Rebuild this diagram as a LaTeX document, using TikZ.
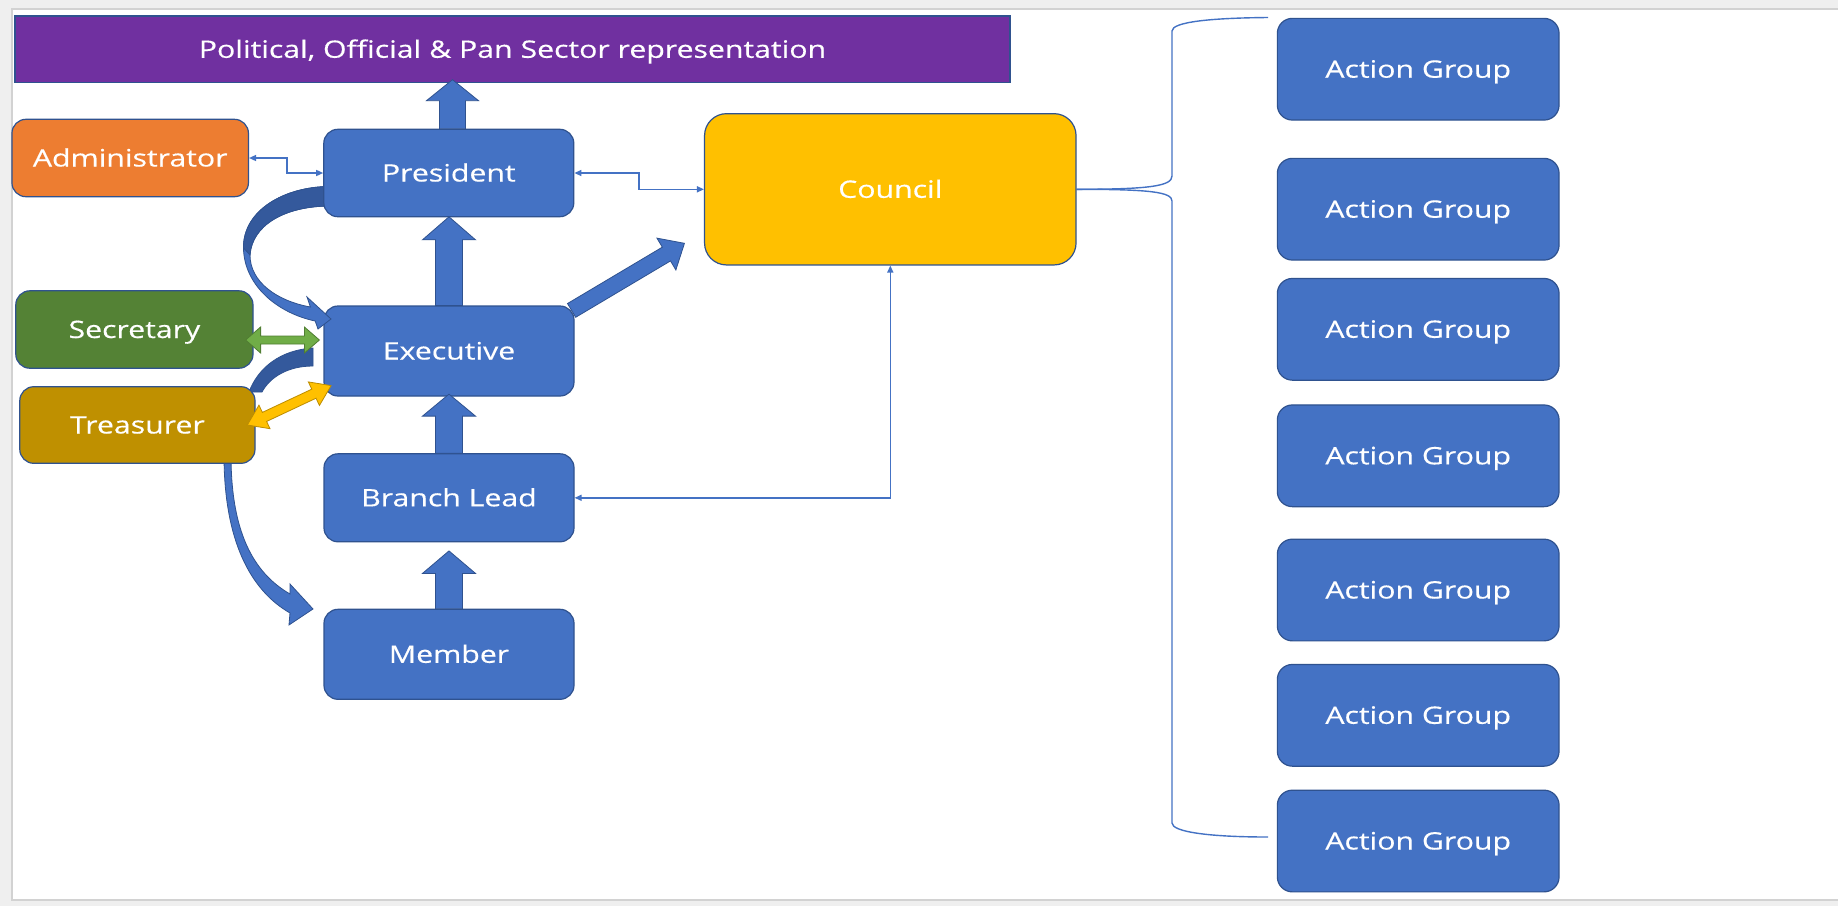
\documentclass[tikz,border=0pt]{standalone}
\usepackage{fontspec}
\setmainfont{Open Sans}[FakeStretch=1.26,FakeBold=0.4]
\usetikzlibrary{calc,arrows.meta}
\definecolor{blu}{HTML}{4472C4}
\definecolor{bluo}{HTML}{2F528F}
\definecolor{bludk}{HTML}{34599C}
\definecolor{purp}{HTML}{7030A0}
\definecolor{orng}{HTML}{ED7D31}
\definecolor{grn}{HTML}{548235}
\definecolor{ltgrn}{HTML}{70AD47}
\definecolor{ltgrno}{HTML}{507E32}
\definecolor{gold}{HTML}{BF9000}
\definecolor{yel}{HTML}{FFC000}
\definecolor{yelo}{HTML}{BC8C00}
\definecolor{bgc}{HTML}{EFEFEF}
\definecolor{framec}{HTML}{D2D2D2}
\pgfdeclarelayer{back}
\pgfdeclarelayer{bg}
\pgfdeclarelayer{curv}
\pgfdeclarelayer{top}
\pgfdeclarelayer{fg}
\pgfsetlayers{back,bg,main,curv,top,fg}
% block arrow: style, from, to, half shaft, half head, head length
\newcommand{\blockarr}[6]{%
  \coordinate (ba-h) at ($(#3)!#6!(#2)$);
  \filldraw[#1] ($(#2)!#4!90:(#3)$) -- ($(ba-h)!#4!90:(#3)$) -- ($(ba-h)!#5!90:(#3)$) -- (#3) -- ($(ba-h)!#5!-90:(#3)$) -- ($(ba-h)!#4!-90:(#3)$) -- ($(#2)!#4!-90:(#3)$) -- cycle;}
% double block arrow
\newcommand{\dblarr}[6]{%
  \coordinate (da-a) at ($(#2)!#6!(#3)$);
  \coordinate (da-b) at ($(#3)!#6!(#2)$);
  \filldraw[#1] (#2) -- ($(da-a)!#5!90:(#3)$) -- ($(da-a)!#4!90:(#3)$) -- ($(da-b)!#4!90:(#3)$) -- ($(da-b)!#5!90:(#3)$) -- (#3) -- ($(da-b)!#5!-90:(#3)$) -- ($(da-b)!#4!-90:(#3)$) -- ($(da-a)!#4!-90:(#3)$) -- ($(da-a)!#5!-90:(#3)$) -- cycle;}
\begin{document}
\begin{tikzpicture}[x=1pt,y=-1pt,
  box/.style={draw=bluo, line width=1.2pt, rounded corners=14pt, inner sep=0pt, text=white, text height=22pt, text depth=5pt, font=\fontsize{24pt}{28pt}\selectfont},
  bluebox/.style={box, fill=blu, minimum width=250pt, minimum height=88pt},
  sidebox/.style={box, minimum width=236.5pt, minimum height=77.4pt},
  agbox/.style={box, fill=blu, rounded corners=15pt, minimum width=281.7pt, minimum height=101.7pt},
  thinc/.style={draw=blu, line width=1.4pt, {Triangle[length=7pt,width=6pt]}-{Triangle[length=7pt,width=6pt]}},
  brace/.style={draw=blu, line width=1.4pt},
  blk/.style={fill=blu, draw=bluo, line width=0.8pt, line join=miter},
  crv/.style={fill=blu, draw=bluo, line width=0.8pt},
  dkband/.style={fill=bludk, draw=bluo, line width=0.8pt},
  grnarr/.style={fill=ltgrn, draw=ltgrno, line width=0.8pt},
  yelarr/.style={fill=yel, draw=yelo, line width=0.8pt}]
\useasboundingbox (0,0) rectangle (1838,906);
\begin{pgfonlayer}{back}
\fill[bgc] (0,0) rectangle (1838,906);
\fill[white] (12,9) rectangle (1845,900);
\draw[framec, line width=1.2pt] (1845,9) -- (12,9) -- (12,900) -- (1845,900);
\end{pgfonlayer}

% nodes
\node[box, fill=purp, rounded corners=0pt, minimum width=995pt, minimum height=66.7pt] (ban) at (512.5,49.3) {Political, Official \& Pan Sector representation};
\node[sidebox, fill=orng] (admin) at (130.2,158) {Administrator};
\begin{pgfonlayer}{top}
\node[bluebox, minimum height=87.4pt] (pres) at (448.8,173) {President};
\end{pgfonlayer}
\node[box, fill=yel, rounded corners=22pt, minimum width=371.5pt, minimum height=151.3pt] (council) at (890.3,189.3) {Council};
\node[sidebox, fill=grn, minimum width=237.2pt] (sec) at (134.4,329.5) {Secretary};
\node[bluebox, minimum height=90pt] (exec) at (449,351) {Executive};
\node[sidebox, fill=gold, minimum width=235.2pt, minimum height=76.6pt] (treas) at (137.4,425) {Treasurer};
\node[bluebox] (branch) at (449,497.8) {Branch Lead};
\node[bluebox, minimum height=90pt] (member) at (449,654.3) {Member};
\node[agbox] (ag1) at (1418.2,69.2) {Action Group};
\node[agbox] (ag2) at (1418.2,209.2) {Action Group};
\node[agbox] (ag3) at (1418.2,329.3) {Action Group};
\node[agbox] (ag4) at (1418.2,455.8) {Action Group};
\node[agbox] (ag5) at (1418.2,590) {Action Group};
\node[agbox] (ag6) at (1418.2,715.3) {Action Group};
\node[agbox] (ag7) at (1418.2,841) {Action Group};

% thin connectors and brace
\begin{pgfonlayer}{bg}
\draw[thinc] (admin.east) -- ++(38,0) |- (pres.west);
\draw[thinc] (pres.east) -| ($(pres.east)!0.5!(council.west)$) |- (council.west);
\draw[thinc] (council.south) |- (branch.east);
\draw[brace] (council.east) .. controls (1150,189.3) and (1172,186) .. (1172,176) -- (1172,31) .. controls (1172,22) and (1210,18) .. (1268,17.5);
\draw[brace] (council.east) .. controls (1150,189.3) and (1172,192) .. (1172,201) -- (1172,823) .. controls (1172,832) and (1210,837) .. (1268,837);
% curved arrow executive -> member (partly behind treasurer)
\filldraw[dkband] (313,348) .. controls (280,350) and (258,368) .. (249,392) -- (262,392) .. controls (270,377) and (288,366) .. (313,366) -- cycle;
\filldraw[crv] (224,455) .. controls (224,540) and (250,590) .. (290,613) -- (289,625) -- (313,609) -- (290,584) -- (290,594) .. controls (252,572) and (231,530) .. (231,455) -- cycle;
\end{pgfonlayer}

% curved arrow president -> executive
\begin{pgfonlayer}{curv}
\filldraw[crv] (330,186.5) .. controls (285,186.5) and (243,210) .. (243.5,248) .. controls (244,285) and (277,313) .. (315.2,321) -- (318,329) -- (331,319) -- (307,297) -- (310.4,307) .. controls (277,301) and (250,282) .. (250,255) .. controls (252,225) and (285,206) .. (330,206) -- cycle;
\filldraw[dkband] (330,186.5) .. controls (285,186.5) and (243,210) .. (243.5,248) -- (250,255) .. controls (252,225) and (285,206) .. (330,206) -- cycle;
\end{pgfonlayer}

% block arrows
\begin{pgfonlayer}{fg}
\coordinate (p1) at ($(pres.north)+(3.7,0)$);
\coordinate (p2) at ($(ban.south)+(-60,-3.6)$);
\blockarr{blk}{p1}{p2}{13pt}{26pt}{21pt}
\coordinate (e1) at (exec.north);
\coordinate (e2) at ($(pres.south)+(0.2,-0.5)$);
\blockarr{blk}{e1}{e2}{13.5pt}{26.5pt}{23pt}
\coordinate (b1) at (branch.north);
\coordinate (b2) at ($(exec.south)+(0,-2.5)$);
\blockarr{blk}{b1}{b2}{13.5pt}{26.5pt}{22pt}
\coordinate (m1) at (member.north);
\coordinate (m2) at ($(branch.south)+(0,8.5)$);
\blockarr{blk}{m1}{m2}{13.5pt}{26.5pt}{22.5pt}
\coordinate (x1) at ($(exec.north east)+(-3,5)$);
\coordinate (x2) at ($(council.west)+(-19.5,54)$);
\blockarr{blk}{x1}{x2}{8pt}{18.5pt}{21pt}
\coordinate (g1) at ($(sec.east)+(-8,10.5)$);
\coordinate (g2) at ($(exec.west)+(-4,-11)$);
\dblarr{grnarr}{g1}{g2}{4pt}{13pt}{15pt}
\coordinate (y1) at ($(treas.east)+(-8.3,0)$);
\coordinate (y2) at ($(exec.south west)+(7.7,-11)$);
\dblarr{yelarr}{y1}{y2}{5pt}{13pt}{19pt}
\end{pgfonlayer}
\end{tikzpicture}
\end{document}
